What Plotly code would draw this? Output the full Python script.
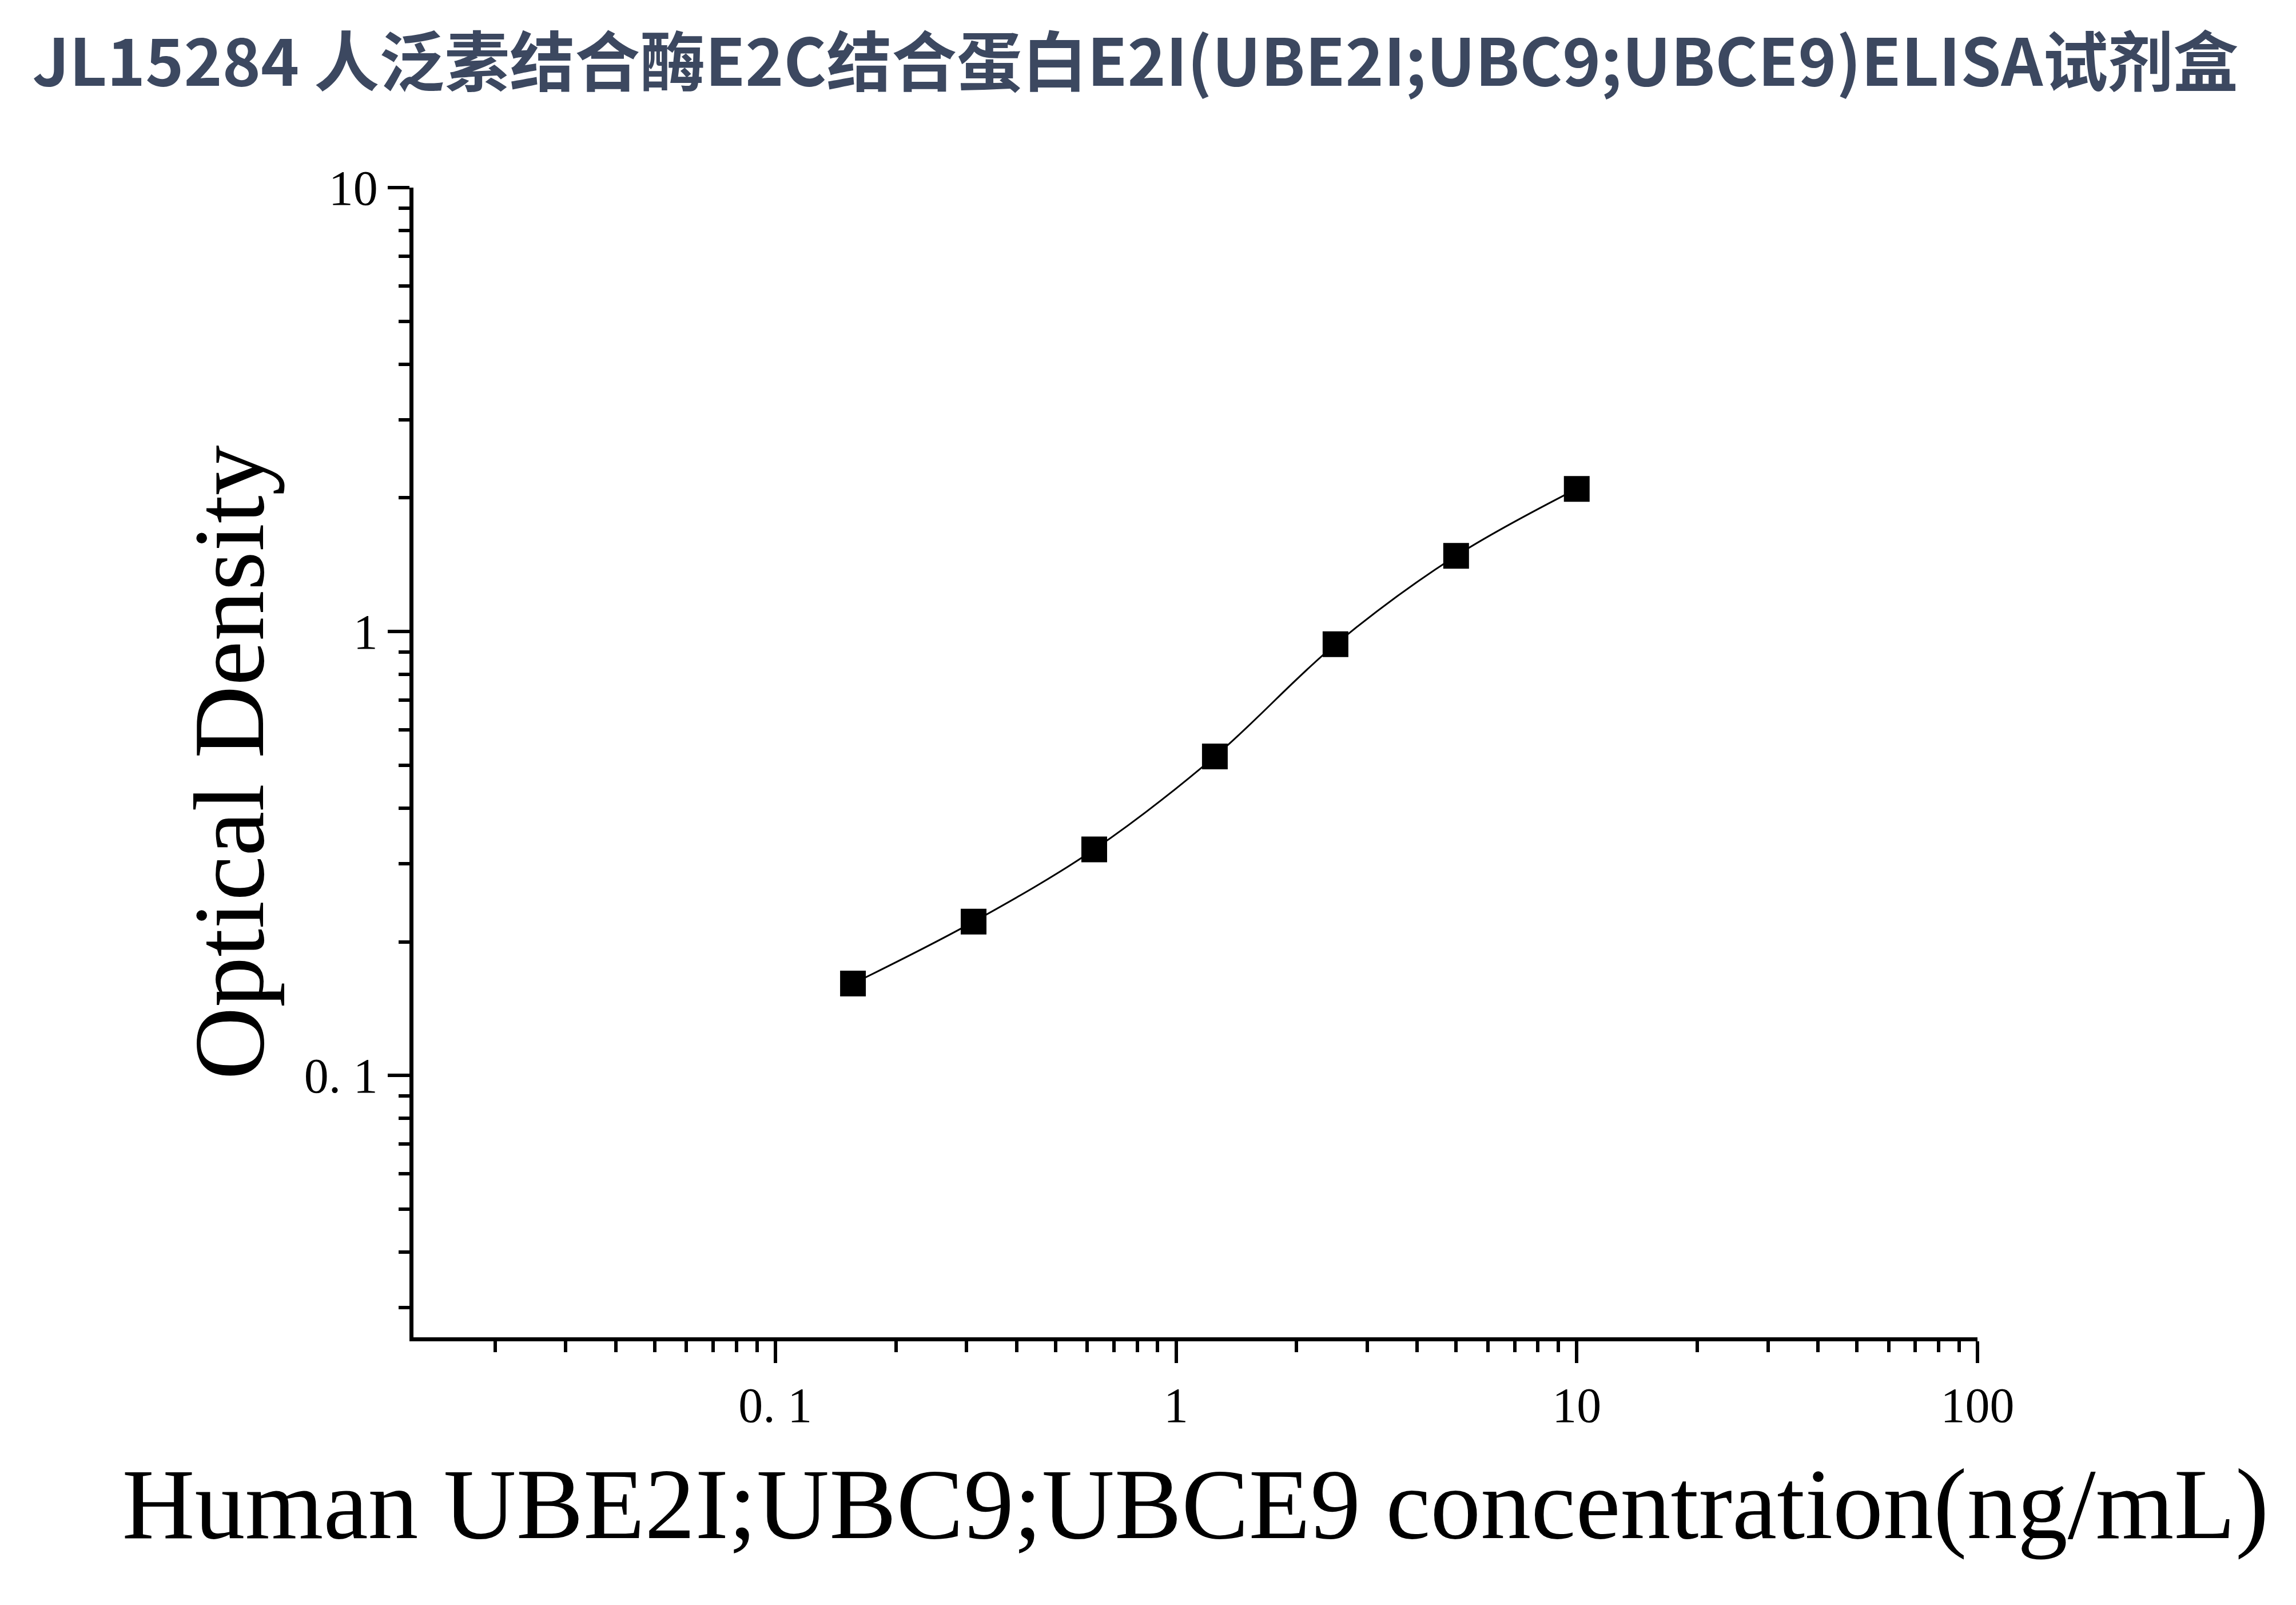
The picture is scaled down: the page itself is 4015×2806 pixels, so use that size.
import plotly.graph_objects as go

# Data
concentration = [0.15625, 0.3125, 0.625, 1.25, 2.5, 5, 10]
optical_density = [0.161, 0.222, 0.323, 0.523, 0.936, 1.481, 2.096]

x_tickvals = [0.1, 1, 10, 100]
x_ticktext = ["0. 1", "1", "10", "100"]
y_tickvals = [0.1, 1, 10]
y_ticktext = ["0. 1", "1", "10"]
x_minor = [m * 10 ** e for e in (-2, -1, 0, 1) for m in range(2, 10)]
y_minor = [m * 10 ** e for e in (-2, -1, 0) for m in range(2, 10) if m * 10 ** e > 0.026]

title_text = "JL15284 人泛素结合酶E2C结合蛋白E2I(UBE2I;UBC9;UBCE9)ELISA试剂盒"
x_title = "Human UBE2I;UBC9;UBCE9 concentration(ng/mL)"
y_title = "Optical Density"

serif = "Liberation Serif, Times New Roman, serif"

fig = go.Figure()
fig.add_trace(go.Scatter(
    x=concentration, y=optical_density, mode="lines",
    line=dict(color="black", width=3, shape="spline", smoothing=1.0),
    hoverinfo="skip", showlegend=False,
))
fig.add_trace(go.Scatter(
    x=concentration, y=optical_density, mode="markers",
    marker=dict(symbol="square", size=45, color="black", line=dict(width=0)),
    showlegend=False,
))

axis_common = dict(
    type="log",
    showgrid=False, zeroline=False,
    showline=True, linecolor="black", linewidth=7,
    ticks="outside", ticklen=38, tickwidth=6, tickcolor="black",
    tickfont=dict(family=serif, size=86, color="black"),
    mirror=False,
)

fig.update_xaxes(
    **axis_common,
    range=[-1.903, 2.0],
    tickmode="array", tickvals=x_tickvals, ticktext=x_ticktext,
    ticklabelstandoff=0,
    minor=dict(tickmode="array", tickvals=x_minor, ticks="outside",
               ticklen=19, tickwidth=6, tickcolor="black", showgrid=False),
    title=dict(text=x_title, font=dict(family=serif, size=176, color="black"), standoff=64),
)
fig.update_yaxes(
    **axis_common,
    range=[-1.59, 1.0],
    tickmode="array", tickvals=y_tickvals, ticktext=y_ticktext,
    ticklabelstandoff=0,
    minor=dict(tickmode="array", tickvals=y_minor, ticks="outside",
               ticklen=19, tickwidth=6, tickcolor="black", showgrid=False),
    title=dict(text=y_title, font=dict(family=serif, size=176, color="black"), standoff=14),
)

fig.update_layout(
    width=4015, height=2806,
    paper_bgcolor="white", plot_bgcolor="white",
    margin=dict(l=715, r=565, t=320, b=476, autoexpand=False),
    title=dict(
        text="<b>" + title_text + "</b>",
        font=dict(family="Noto Sans CJK SC", size=114, color="#3c4860"),
        x=0.4925, xanchor="center", y=1 - 102 / 2806, yanchor="middle",
    ),
)

fig.write_html("out.html")
